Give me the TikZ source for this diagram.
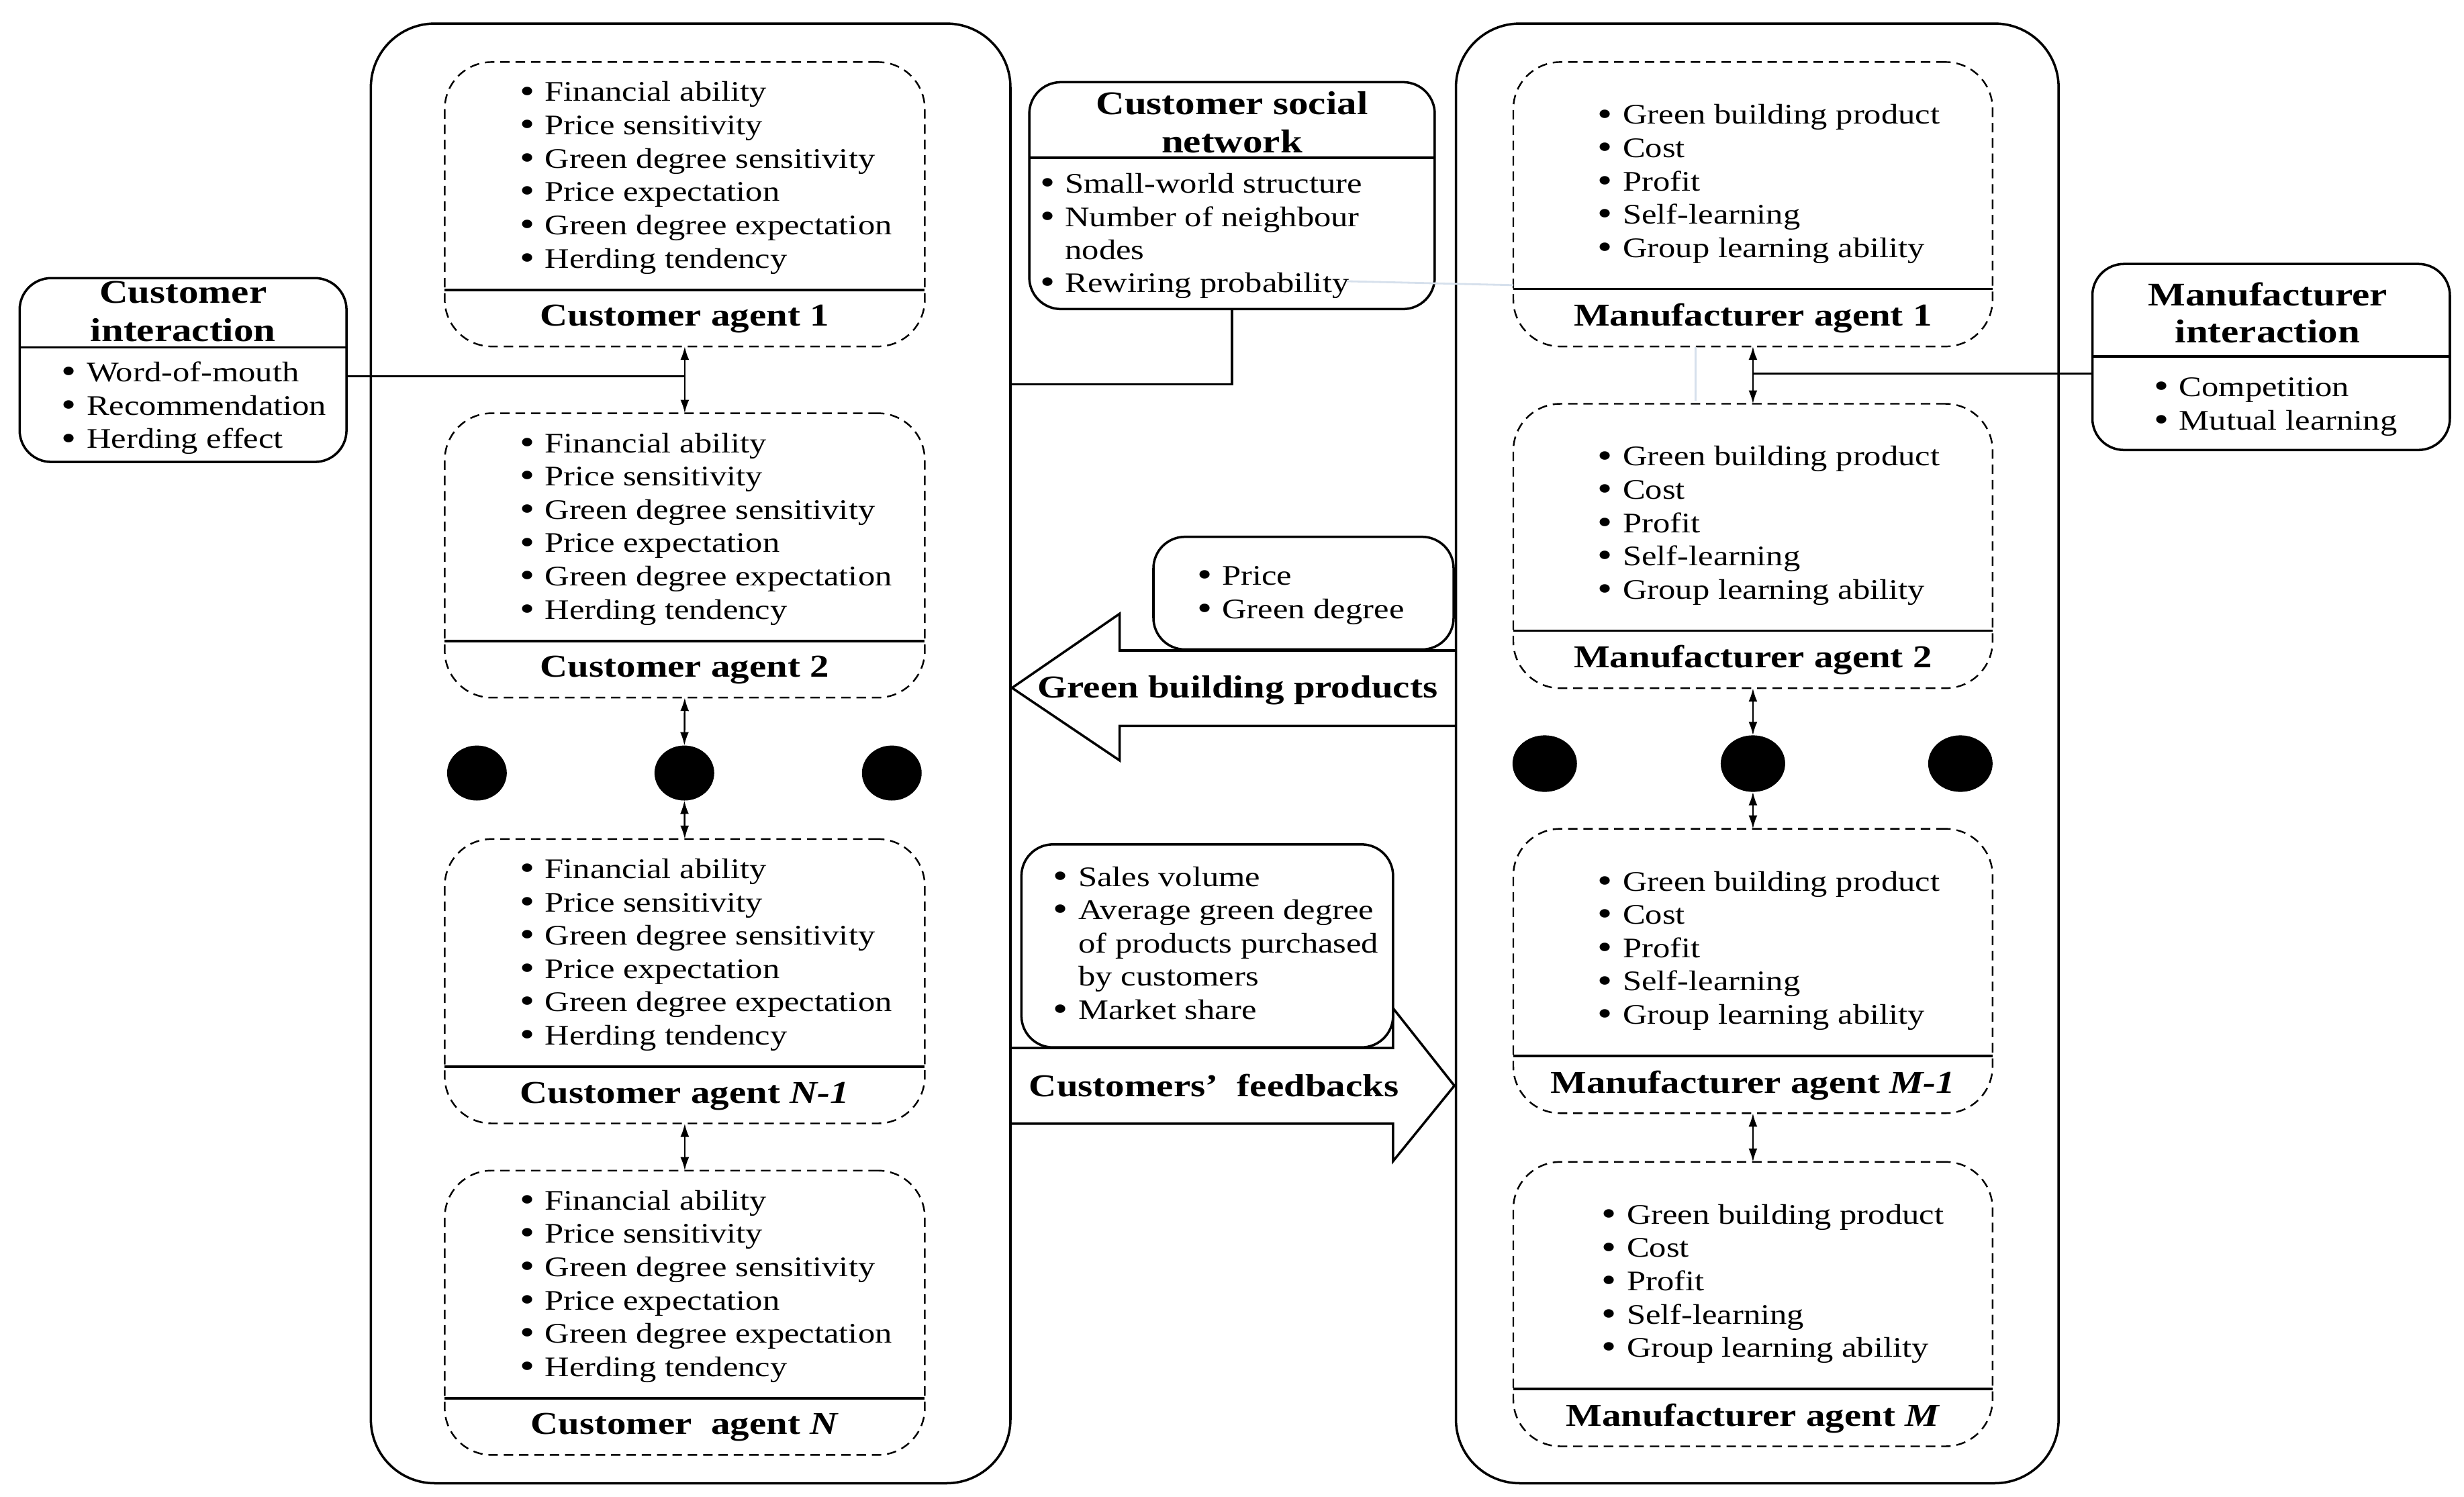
\documentclass[tikz,border=0pt]{standalone}
\usepackage{fontspec}
\setmainfont{Liberation Serif}[FakeStretch=1.2]
\usetikzlibrary{shapes.geometric,arrows.meta}
\newcommand\U{0.023406}
\newcommand\bul{\makebox[10.6pt][l]{\raisebox{-0.6pt}{\fontsize{15}{14}\selectfont\textbullet}}}
% #1 name prefix, #2 text x, #3 first baseline y, #4 items
\newcommand\blist[4]{\foreach \itm [count=\i from 0] in {#4}{\node[item] (#1-\i) at (#2-16,#3+21.2*\i) {\bul\itm};}}
\tikzset{
  item/.style={anchor=base west, inner sep=0, font=\fontsize{12}{14}\selectfont},
  plain/.style={anchor=base west, inner sep=0, font=\fontsize{12}{14}\selectfont},
  ttl/.style={anchor=base, inner sep=0, font=\fontsize{13.5}{16}\selectfont\bfseries},
  sz/.style 2 args={minimum width=#1*\U cm, minimum height=#2*\U cm},
  cont/.style={draw, line width=1pt, rounded corners=0.95cm, inner sep=0, outer sep=0},
  agent/.style={draw, dash pattern=on 4pt off 2.5pt, line width=0.7pt, rounded corners=0.7cm, inner sep=0, outer sep=0},
  ibox/.style={draw, fill=white, line width=1pt, rounded corners=0.47cm, inner sep=0, outer sep=0},
  sepl/.style={line width=1pt},
  conn/.style={line width=0.9pt},
  dbl/.style={{Latex[length=2mm,width=1.3mm]}-{Latex[length=2mm,width=1.3mm]}, line width=0.7pt},
  dot/.style={ellipse, fill=black, inner sep=0, outer sep=0},
  blk/.style={line width=1pt, line join=miter},
  faint/.style={line width=0.8pt, color={rgb,255:red,214;green,224;blue,236}}
}
\begin{document}
\begin{tikzpicture}[x=\U cm, y=-\U cm]
\useasboundingbox (0,0) rectangle (1568,952.7);
\fill[white] (0,0) rectangle (1568,952.7);

% containers
\node[cont, sz={407}{929}] (L) at (439.5,479.5) {};
\node[cont, sz={383.5}{929}] (R) at (1118.25,479.5) {};

% customer agents
\node[agent, sz={305.5}{181}] (c1) at (435.75,130) {};
\node[agent, sz={305.5}{181}] (c2) at (435.75,353.5) {};
\node[agent, sz={305.5}{181}] (c3) at (435.75,624.5) {};
\node[agent, sz={305.5}{181}] (c4) at (435.75,835.5) {};
\draw[sepl] (c1.west |- 0,184.5) -- (c1.east |- 0,184.5);
\draw[sepl] (c2.west |- 0,408) -- (c2.east |- 0,408);
\draw[sepl] (c3.west |- 0,679) -- (c3.east |- 0,679);
\draw[sepl] (c4.west |- 0,890) -- (c4.east |- 0,890);
\blist{c1l}{346.5}{64.5}{Financial ability,Price sensitivity,Green degree sensitivity,Price expectation,Green degree expectation,Herding tendency}
\blist{c2l}{346.5}{288}{Financial ability,Price sensitivity,Green degree sensitivity,Price expectation,Green degree expectation,Herding tendency}
\blist{c3l}{346.5}{559}{Financial ability,Price sensitivity,Green degree sensitivity,Price expectation,Green degree expectation,Herding tendency}
\blist{c4l}{346.5}{770}{Financial ability,Price sensitivity,Green degree sensitivity,Price expectation,Green degree expectation,Herding tendency}
\node[ttl] (c1t) at (435.75,207.5) {Customer agent 1};
\node[ttl] (c2t) at (435.75,431) {Customer agent 2};
\node[ttl] (c3t) at (435.75,702) {Customer agent \textit{N-1}};
\node[ttl] (c4t) at (435.75,913) {Customer~~agent \textit{N}};

% customer dots
\node[dot, sz={38}{35}] (cd1) at (303.5,492) {};
\node[dot, sz={38}{35}] (cd2) at (435.5,492) {};
\node[dot, sz={38}{35}] (cd3) at (567.5,492) {};
\draw[dbl] (c1.south) -- (c2.north);
\draw[dbl] (c2.south) -- (cd2.north);
\draw[dbl] (cd2.south) -- (c3.north);
\draw[dbl] (c3.south) -- (c4.north);

% manufacturer agents
\node[agent, sz={305}{181}] (m1) at (1115.5,130) {};
\node[agent, sz={305}{181}] (m2) at (1115.5,347.5) {};
\node[agent, sz={305}{181}] (m3) at (1115.5,618) {};
\node[agent, sz={305}{181}] (m4) at (1115.5,830) {};
\draw[sepl] (m1.west |- 0,184) -- (m1.east |- 0,184);
\draw[sepl] (m2.west |- 0,401.5) -- (m2.east |- 0,401.5);
\draw[sepl] (m3.west |- 0,672) -- (m3.east |- 0,672);
\draw[sepl] (m4.west |- 0,884) -- (m4.east |- 0,884);
\blist{m1l}{1032.5}{79}{Green building product,Cost,Profit,Self-learning,Group learning ability}
\blist{m2l}{1032.5}{296.5}{Green building product,Cost,Profit,Self-learning,Group learning ability}
\blist{m3l}{1032.5}{567}{Green building product,Cost,Profit,Self-learning,Group learning ability}
\blist{m4l}{1035}{779}{Green building product,Cost,Profit,Self-learning,Group learning ability}
\node[ttl] (m1t) at (1115.5,207.5) {Manufacturer agent 1};
\node[ttl] (m2t) at (1115.5,425) {Manufacturer agent 2};
\node[ttl] (m3t) at (1115.5,695.7) {Manufacturer agent \textit{M-1}};
\node[ttl] (m4t) at (1115.5,907.6) {Manufacturer agent \textit{M}};

% manufacturer dots
\node[dot, sz={41}{36}] (md1) at (983,486) {};
\node[dot, sz={41}{36}] (md2) at (1115.5,486) {};
\node[dot, sz={41}{36}] (md3) at (1247.5,486) {};
\draw[dbl] (m1.south) -- (m2.north);
\draw[dbl] (m2.south) -- (md2.north);
\draw[dbl] (md2.south) -- (m3.north);
\draw[dbl] (m3.south) -- (m4.north);

% customer interaction
\node[ibox, sz={208}{117}] (ci) at (116.5,235.5) {};
\draw[sepl] (ci.west |- 0,221) -- (ci.east |- 0,221);
\node[ttl, font=\fontsize{14}{16}\selectfont\bfseries] (cit1) at (116.5,193) {Customer};
\node[ttl, font=\fontsize{14}{16}\selectfont\bfseries] (cit2) at (116.5,217.4) {interaction};
\blist{cil}{55}{243}{Word-of-mouth,Recommendation,Herding effect}
\coordinate (j1) at (435.5,239.5);
\draw[conn] (ci.east |- j1) -- (j1);

% customer social network
\node[ibox, sz={258}{144.4}] (sn) at (784,124.5) {};
\draw[sepl] (sn.west |- 0,100.3) -- (sn.east |- 0,100.3);
\node[ttl, font=\fontsize{14}{16}\selectfont\bfseries] (snt1) at (784,73) {Customer social};
\node[ttl, font=\fontsize{14}{16}\selectfont\bfseries] (snt2) at (784,97) {network};
\blist{snl}{677.5}{123}{Small-world structure,Number of neighbour}
\node[plain] (snl-n) at (677.5,165) {nodes};
\node[item] (snl-r) at (677.5-16,186.2) {\bul Rewiring probability};
\draw[conn] (sn.south) |- (L.east |- 0,244.7);

% faint artefact lines
\draw[faint] (857,179) -- (m1.west |- 0,181.5);
\draw[faint] (1079,221) -- (1079,255);

% manufacturer interaction
\node[ibox, sz={227.5}{118.4}] (mi) at (1445.25,227.2) {};
\draw[sepl] (mi.west |- 0,226.8) -- (mi.east |- 0,226.8);
\node[ttl, font=\fontsize{14}{16}\selectfont\bfseries] (mit1) at (1443,194.6) {Manufacturer};
\node[ttl, font=\fontsize{14}{16}\selectfont\bfseries] (mit2) at (1443,218) {interaction};
\blist{mil}{1386.5}{252.3}{Competition,Mutual learning}
\coordinate (j2) at (1115.5,237.7);
\draw[conn] (mi.west |- j2) -- (j2);

% green building products arrow
\draw[blk] (926.5,414) -- (712.5,414) -- (712.5,390.6) -- (644,437.8) -- (712.5,484) -- (712.5,462) -- (926.5,462);
\node[ttl] (gbp) at (787.5,444) {Green building products};
\node[ibox, sz={191}{71.7}] (pb) at (829.5,377.5) {};
\blist{pbl}{777.5}{372.4}{Price,Green degree}

% customers' feedbacks arrow
\draw[blk] (643,667) -- (886.5,667) -- (886.5,641.7) -- (925.5,691) -- (886.5,739) -- (886.5,715.2) -- (643,715.2);
\node[ttl] (cfb) at (772.5,698) {Customers’~~feedbacks};
\node[ibox, sz={236.5}{129.2}] (fb) at (768.25,602) {};
\blist{fbl}{686}{564}{Sales volume,Average green degree}
\node[plain] (fbl-p) at (686,606.4) {of products purchased};
\node[plain] (fbl-b) at (686,627.6) {by customers};
\node[item] (fbl-m) at (686-16,648.8) {\bul Market share};
\end{tikzpicture}
\end{document}
